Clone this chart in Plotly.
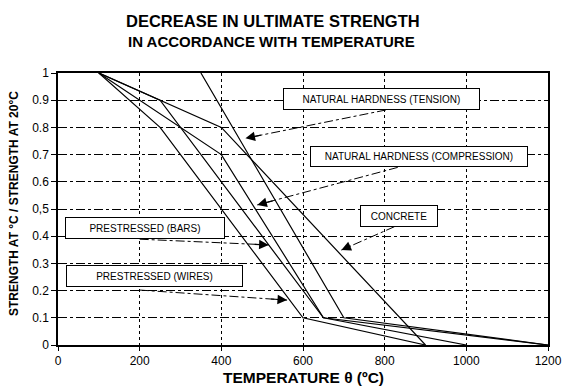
import plotly.graph_objects as go

# ---- data ----
concrete_T = [100, 400, 900]
concrete_v = [1.0, 0.8, 0.0]
tension_T = [350, 700, 1200]
tension_v = [1.0, 0.1, 0.0]
compression_T = [100, 400, 650, 1200]
compression_v = [1.0, 0.7, 0.1, 0.0]
bars_T = [100, 250, 650, 1000]
bars_v = [1.0, 0.9, 0.1, 0.0]
wires_T = [100, 250, 600, 900]
wires_v = [1.0, 0.8, 0.1, 0.0]

x_ticks = [0, 200, 400, 600, 800, 1000, 1200]
y_ticks = [0, 0.1, 0.2, 0.3, 0.4, 0.5, 0.6, 0.7, 0.8, 0.9, 1]
y_ticktext = ["0", "0.1", "0.2", "0.3", "0.4", "0,5", "0.6", "0.7", "0.8", "0.9", "1"]

# label boxes: text, centre (T, v), box size px, arrow tail (T, v), arrow tip (T, v)
labels = [
    ("NATURAL HARDNESS (TENSION)", 792, 0.904, 197, 22, 803, 0.864, 459, 0.76),
    ("NATURAL HARDNESS (COMPRESSION)", 883, 0.693, 218, 21, 832, 0.653, 488, 0.515),
    ("CONCRETE", 835, 0.475, 78, 22, 824, 0.435, 694, 0.349),
    ("PRESTRESSED (BARS)", 212, 0.432, 160, 22, 200, 0.389, 516, 0.368),
    ("PRESTRESSED (WIRES)", 236, 0.253, 177, 22, 200, 0.202, 561, 0.165),
]

FONT = "Liberation Sans, Arial, sans-serif"

fig = go.Figure()
for name, T, v in [("Concrete", concrete_T, concrete_v),
                   ("Natural hardness (tension)", tension_T, tension_v),
                   ("Natural hardness (compression)", compression_T, compression_v),
                   ("Prestressed (bars)", bars_T, bars_v),
                   ("Prestressed (wires)", wires_T, wires_v)]:
    fig.add_trace(go.Scatter(x=T, y=v, mode="lines", name=name,
                             line=dict(color="black", width=1.2),
                             showlegend=False, hoverinfo="skip"))

annotations = []
shapes = []
for text, cx, cy, w, h, tx, ty, hx, hy in labels:
    shapes.append(dict(type="line", xref="x", yref="y", x0=tx, y0=ty, x1=hx, y1=hy,
                       line=dict(color="black", width=1, dash="dashdot"), layer="above"))
    fr = 0.12 if (abs(hx - tx) > 200) else 0.2
    annotations.append(dict(x=hx, y=hy, ax=hx + (tx - hx) * fr, ay=hy + (ty - hy) * fr,
                            xref="x", yref="y", axref="x", ayref="y", text="",
                            showarrow=True, arrowhead=2, arrowsize=1.6, arrowwidth=1.2,
                            arrowcolor="black"))
    annotations.append(dict(x=cx, y=cy, xref="x", yref="y", text=text, showarrow=False,
                            width=w - 4, height=h - 4, bgcolor="white", bordercolor="black",
                            borderwidth=1, borderpad=1,
                            font=dict(family=FONT, size=10, color="black")))

annotations += [
    dict(x=0.439, y=1.191, xref="paper", yref="paper", text="<b>DECREASE IN ULTIMATE STRENGTH</b>",
         showarrow=False, font=dict(family=FONT, size=16.5, color="black"), yanchor="middle"),
    dict(x=0.435, y=1.114, xref="paper", yref="paper", text="<b>IN ACCORDANCE WITH TEMPERATURE</b>",
         showarrow=False, font=dict(family=FONT, size=15, color="black"), yanchor="middle"),
    dict(x=0.502, y=-0.121, xref="paper", yref="paper", text="<b>TEMPERATURE θ (ºC)</b>",
         showarrow=False, font=dict(family=FONT, size=15.5, color="black"), yanchor="middle"),
    dict(x=-0.0898, y=0.522, xref="paper", yref="paper",
         text="<b>STRENGTH AT °C / STRENGTH AT 20°C</b>", textangle=-90,
         showarrow=False, font=dict(family=FONT, size=12, color="black"),
         xanchor="center", yanchor="middle"),
]

fig.update_layout(
    width=563, height=390, autosize=False,
    margin=dict(l=58, r=15, t=73, b=45, autoexpand=False),
    paper_bgcolor="white", plot_bgcolor="white",
    font=dict(family=FONT, size=12, color="black"),
    annotations=annotations, shapes=shapes,
)
fig.update_xaxes(range=[0, 1200], tickvals=x_ticks, ticks="outside", ticklen=4,
                 tickcolor="black", showline=True, linecolor="black", linewidth=1.5,
                 mirror=True, showgrid=True, gridcolor="black", gridwidth=1,
                 griddash="dot", zeroline=False, tickfont=dict(size=12), automargin=False)
fig.update_yaxes(range=[0, 1], tickvals=y_ticks, ticktext=y_ticktext, ticks="outside",
                 ticklen=5, tickcolor="black", showline=True, linecolor="black",
                 linewidth=1.5, mirror=True, showgrid=True, gridcolor="black",
                 gridwidth=1, griddash="dashdot", zeroline=False, tickfont=dict(size=12),
                 automargin=False)

fig.write_html("out.html", config={"responsive": False, "displayModeBar": False},
               post_script="document.body.style.margin='0';document.body.style.overflow='hidden';")
